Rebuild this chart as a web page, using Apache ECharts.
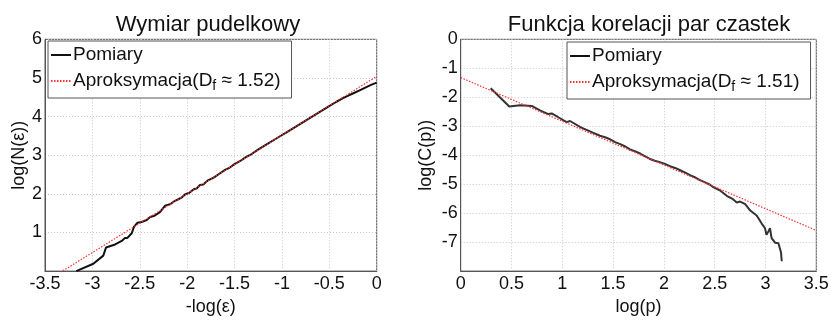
<!DOCTYPE html>
<html><head><meta charset="utf-8">
<script src="https://cdn.jsdelivr.net/npm/echarts@6/dist/echarts.min.js"></script>
<style>html,body{margin:0;padding:0;background:#fff}#c{width:833px;height:321px}</style>
</head><body><div id="c"></div>
<script>
// Left chart: box-counting dimension
const leftTitle = 'Wymiar pudelkowy';
const leftXName = '-log(ε)';
const leftYName = 'log(N(ε))';
const leftMeasX = [-3.17,-2.99,-2.885,-2.856,-2.76,-2.69,-2.656,-2.64,-2.63,-2.585,-2.56,-2.526,-2.48,-2.427,-2.39,-2.34,-2.32,-2.287,-2.234,-2.18,-2.128,-2.093,-2.06,-2.02,-1.98,-1.93,-1.9,-1.864,-1.83,-1.78,-1.72,-1.66,-1.6,-1.55,-1.5,-1.44,-1.38,-1.32,-1.26,-1.2,-1.14,-1.08,-1.02,-0.96,-0.9,-0.84,-0.78,-0.72,-0.66,-0.6,-0.54,-0.48,-0.42,-0.36,-0.3,-0.24,-0.18,-0.12,-0.06,0];
const leftMeasY = [0.0,0.19,0.40,0.61,0.69,0.78,0.86,0.90,0.86,0.98,1.15,1.25,1.27,1.32,1.40,1.44,1.41,1.525,1.69,1.73,1.82,1.86,1.90,1.99,2.02,2.12,2.14,2.23,2.24,2.35,2.42,2.52,2.62,2.68,2.77,2.85,2.95,3.03,3.13,3.22,3.31,3.40,3.49,3.58,3.67,3.76,3.85,3.94,4.03,4.12,4.21,4.30,4.39,4.47,4.54,4.61,4.68,4.75,4.82,4.88];
const leftFitX = [-3.5, 0];
const leftFitY = [-0.28, 5.04];
const leftFitName = 'Aproksymacja(Df ≈ 1.52)';

// Right chart: pair correlation function
const rightTitle = 'Funkcja korelacji par czastek';
const rightXName = 'log(p)';
const rightYName = 'log(C(p))';
const rightMeasX = [0.295,0.478,0.584,0.70,0.78,0.862,0.895,0.96,1.043,1.076,1.174,1.21,1.256,1.30,1.371,1.42,1.47,1.52,1.57,1.62,1.666,1.72,1.77,1.82,1.863,1.91,1.96,2.01,2.06,2.11,2.16,2.21,2.257,2.31,2.355,2.40,2.454,2.486,2.55,2.618,2.68,2.717,2.75,2.80,2.85,2.913,2.963,2.995,3.01,3.03,3.044,3.06,3.094,3.11,3.127,3.143,3.153,3.16];
const rightMeasY = [-1.69,-2.32,-2.28,-2.30,-2.45,-2.58,-2.56,-2.69,-2.86,-2.82,-3.02,-3.08,-3.15,-3.22,-3.33,-3.38,-3.45,-3.55,-3.62,-3.70,-3.80,-3.87,-3.95,-4.05,-4.13,-4.19,-4.24,-4.30,-4.38,-4.44,-4.52,-4.60,-4.69,-4.77,-4.86,-4.93,-5.02,-5.10,-5.21,-5.40,-5.52,-5.63,-5.60,-5.69,-5.91,-6.08,-6.36,-6.52,-6.75,-6.62,-6.52,-6.86,-7.02,-6.98,-7.04,-7.08,-7.36,-7.66];
const rightFitX = [0, 3.5];
const rightFitY = [-1.32, -6.60];
const rightFitName = 'Aproksymacja(Df ≈ 1.51)';

const measName = 'Pomiary';
const zip = (xs, ys) => xs.map((x, i) => [x, ys[i]]);

const FONT = '"Liberation Sans", Arial, sans-serif';
const axisCommon = {
  axisLine: {show: true, onZero: false, lineStyle: {color: '#555', width: 1}},
  axisTick: {show: false},
  splitLine: {show: true, lineStyle: {color: '#c8c8c8', type: [1, 2], width: 1}},
  axisLabel: {color: '#111', fontSize: 18, fontFamily: FONT},
  nameTextStyle: {color: '#111', fontSize: 18, fontFamily: FONT},
  nameLocation: 'middle'
};
const legendCommon = {
  orient: 'vertical',
  backgroundColor: '#fff',
  borderColor: '#555',
  borderWidth: 1,
  borderRadius: 0,
  itemWidth: 20,
  itemHeight: 12,
  itemGap: 4,
  padding: [3, 11, 5, 2],
  itemStyle: {color: 'rgba(0,0,0,0)', borderColor: 'rgba(0,0,0,0)', borderWidth: 0, opacity: 0},
  textStyle: {color: '#111', fontSize: 19, fontFamily: FONT, lineHeight: 22, padding: [0, 0, 0, -3],
    rich: {sub: {fontSize: 14, fontFamily: FONT, color: '#111', padding: [10, 0, 0, 0]}}},
  formatter: n => n.replace('Df', 'D{sub|f}')
};

const chart = echarts.init(document.getElementById('c'), null, {renderer: 'canvas'});
chart.setOption({
  animation: false,
  backgroundColor: '#fff',
  title: [
    {text: leftTitle, left: 203, top: 9, textAlign: 'center',
     textStyle: {fontSize: 22, fontWeight: 'normal', color: '#111', fontFamily: FONT}},
    {text: rightTitle, left: 644, top: 9, textAlign: 'center',
     textStyle: {fontSize: 22, fontWeight: 'normal', color: '#111', fontFamily: FONT}}
  ],
  grid: [
    {left: 45, top: 39.3, width: 331.7, height: 240, show: true, borderColor: '#555', borderWidth: 1, backgroundColor: '#fff'},
    {left: 460.7, top: 39.3, width: 355.6, height: 240, show: true, borderColor: '#555', borderWidth: 1, backgroundColor: '#fff'}
  ],
  xAxis: [
    Object.assign({}, axisCommon, {gridIndex: 0, type: 'value', min: -3.5, max: 0, interval: 0.5,
      name: leftXName, nameGap: 23, axisLabel: Object.assign({}, axisCommon.axisLabel, {margin: 4})}),
    Object.assign({}, axisCommon, {gridIndex: 1, type: 'value', min: 0, max: 3.5, interval: 0.5,
      name: rightXName, nameGap: 23, axisLabel: Object.assign({}, axisCommon.axisLabel, {margin: 4})})
  ],
  yAxis: [
    Object.assign({}, axisCommon, {gridIndex: 0, type: 'value', min: 0, max: 6, interval: 1,
      name: leftYName, nameGap: 16, axisLabel: Object.assign({}, axisCommon.axisLabel, {margin: 3, showMinLabel: false})}),
    Object.assign({}, axisCommon, {gridIndex: 1, type: 'value', min: -8, max: 0, interval: 1,
      name: rightYName, nameGap: 26, axisLabel: Object.assign({}, axisCommon.axisLabel, {margin: 3, showMinLabel: false})})
  ],
  legend: [
    Object.assign({}, legendCommon, {left: 48, top: 41, data: [measName, leftFitName]}),
    Object.assign({}, legendCommon, {left: 567, top: 42, data: [measName, rightFitName]})
  ],
  series: [
    {name: measName, type: 'line', xAxisIndex: 0, yAxisIndex: 0, data: zip(leftMeasX, leftMeasY),
     showSymbol: false, symbol: 'none', lineStyle: {color: '#111', width: 2}, itemStyle: {color: '#111'}, clip: true, z: 3},
    {name: leftFitName, type: 'line', xAxisIndex: 0, yAxisIndex: 0, data: zip(leftFitX, leftFitY),
     showSymbol: false, symbol: 'none', lineStyle: {color: '#ff3030', width: 1.2, type: [1.5, 1.5]}, itemStyle: {color: '#ff3030'}, clip: true, z: 4},
    {name: measName, type: 'line', xAxisIndex: 1, yAxisIndex: 1, data: zip(rightMeasX, rightMeasY),
     showSymbol: false, symbol: 'none', lineStyle: {color: '#333', width: 2}, itemStyle: {color: '#333'}, clip: true, z: 3},
    {name: rightFitName, type: 'line', xAxisIndex: 1, yAxisIndex: 1, data: zip(rightFitX, rightFitY),
     showSymbol: false, symbol: 'none', lineStyle: {color: '#ff3030', width: 1.2, type: [1.5, 1.5]}, itemStyle: {color: '#ff3030'}, clip: true, z: 4}
  ]
});
</script>
</body></html>
